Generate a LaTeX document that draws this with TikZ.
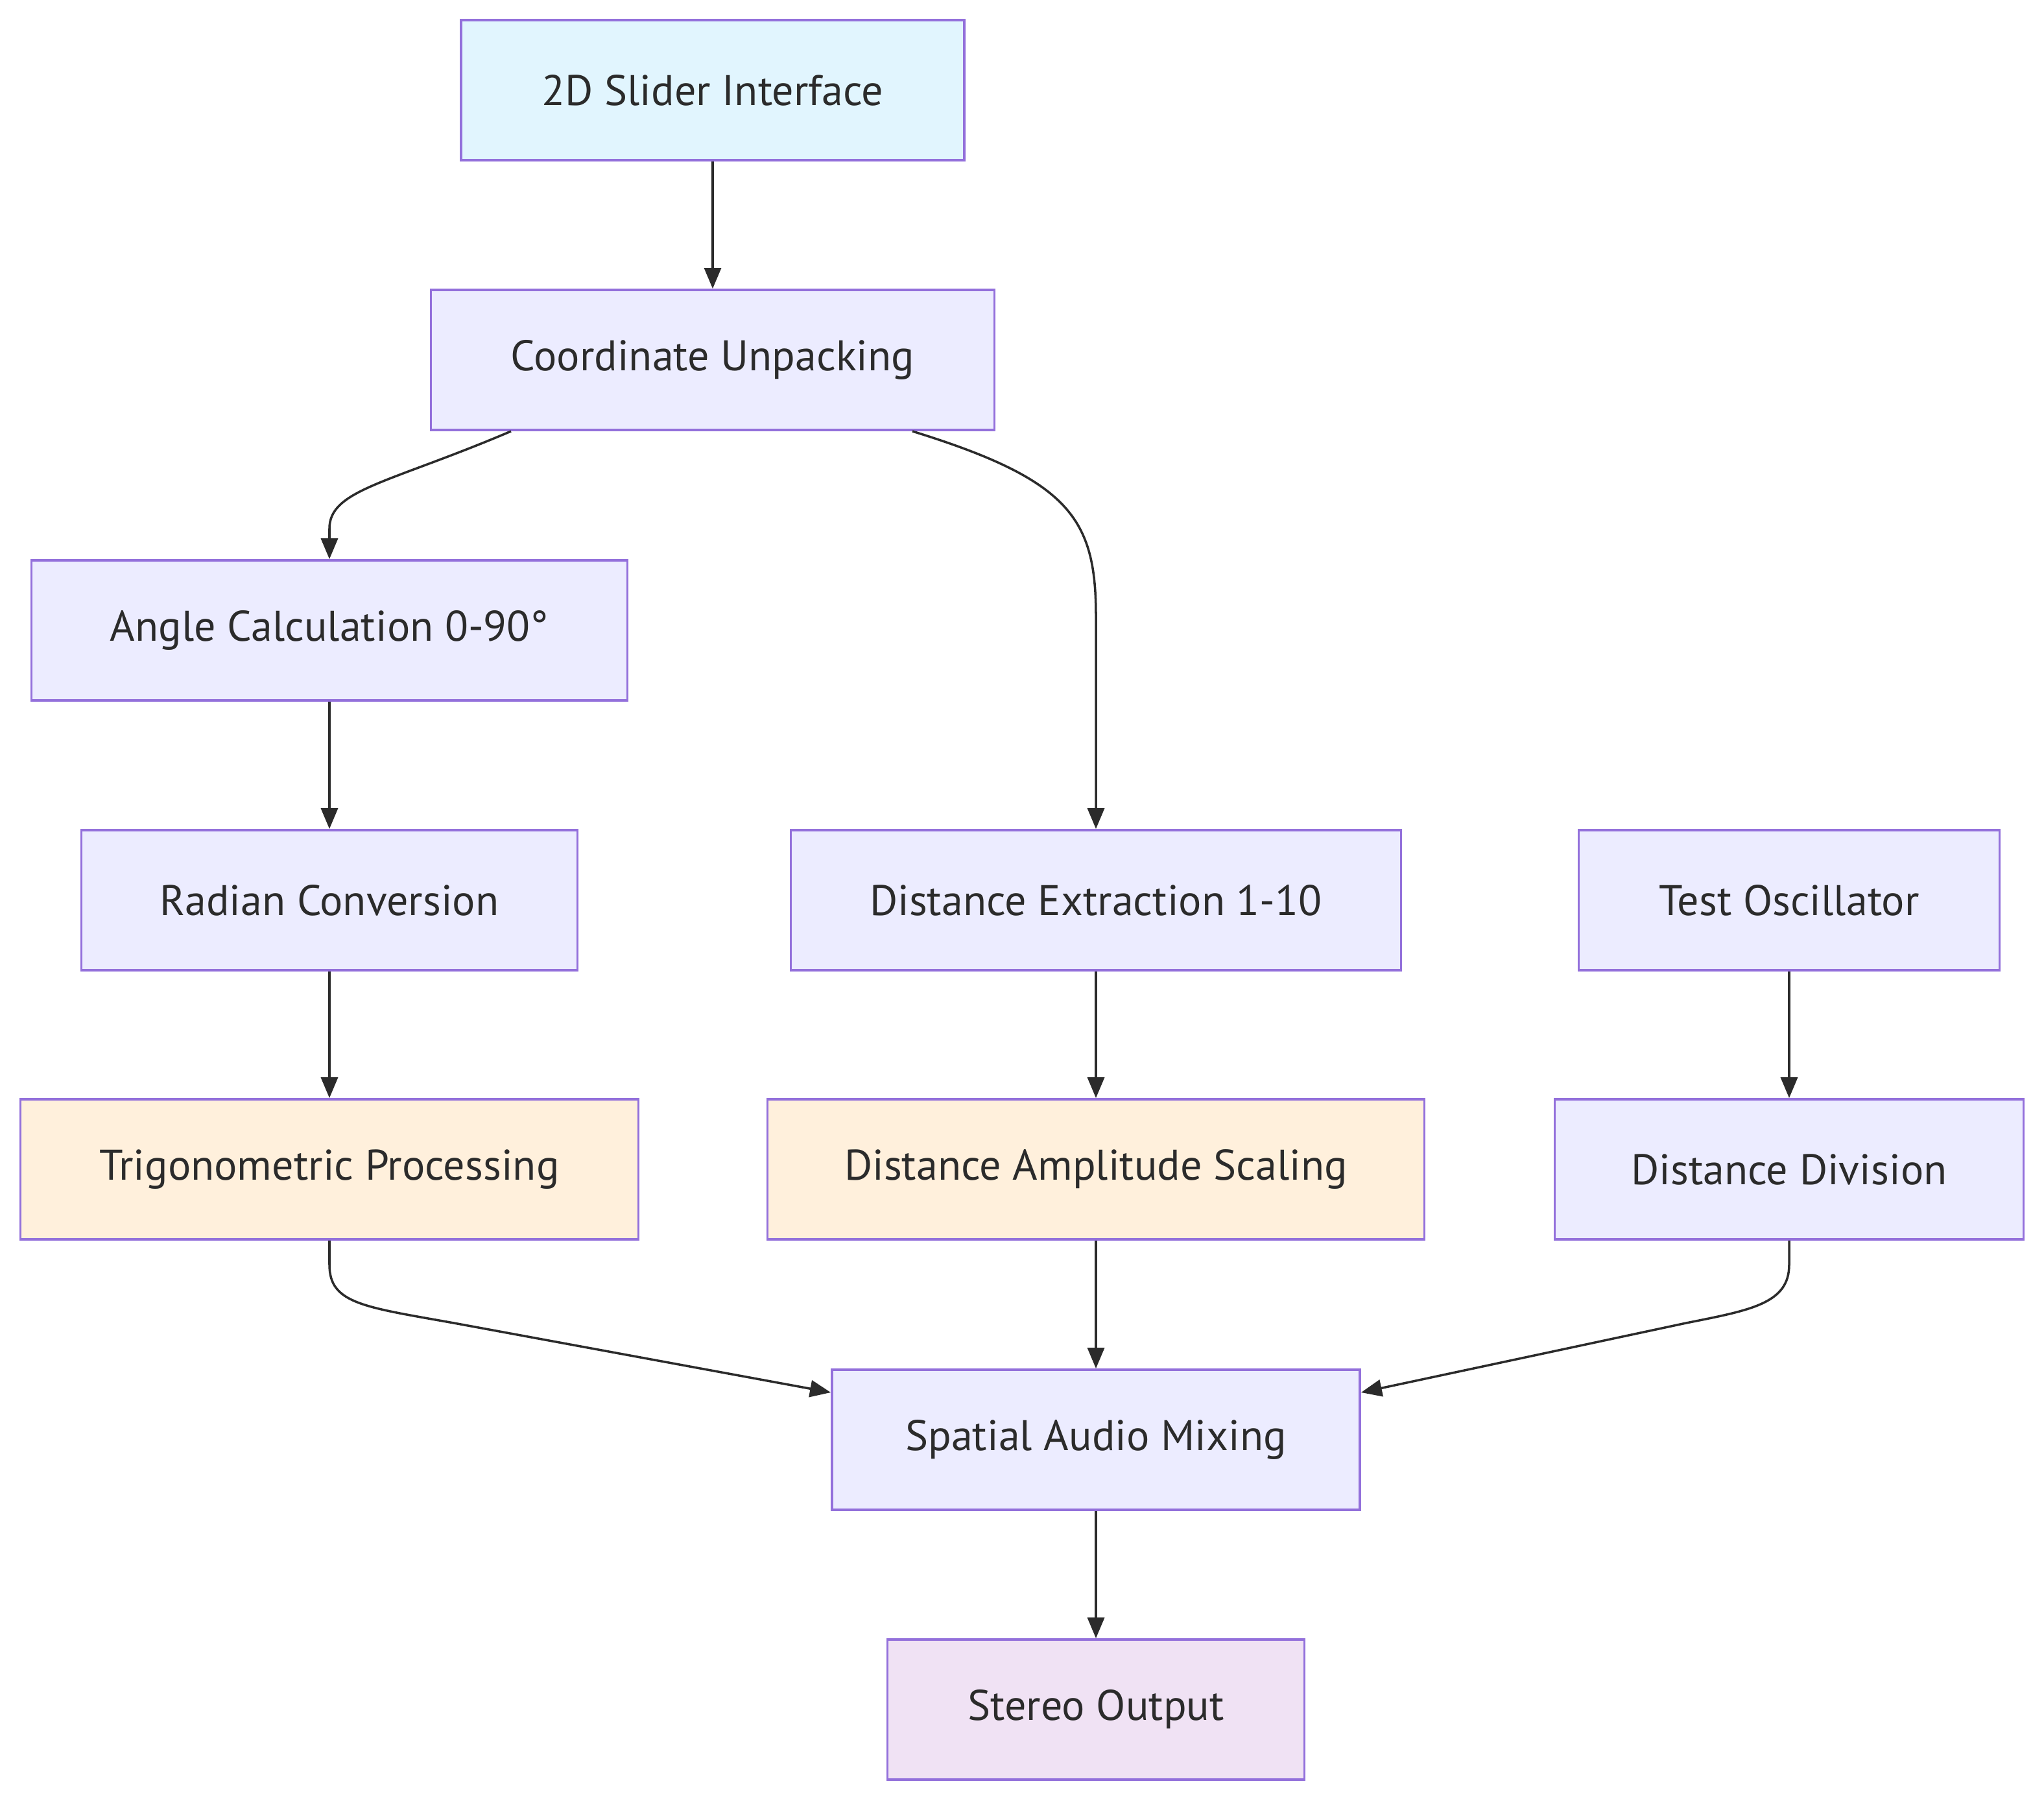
\documentclass[tikz,border=0pt]{standalone}
\usepackage{fontspec}
\setmainfont{PT Sans}
\usetikzlibrary{arrows.meta}
\definecolor{boxline}{HTML}{9370DB}
\definecolor{boxfill}{HTML}{ECECFF}
\definecolor{infill}{HTML}{E1F5FE}
\definecolor{procfill}{HTML}{FFF0DC}
\definecolor{outfill}{HTML}{F0E2F4}
\definecolor{ink}{HTML}{2B2B2B}
\begin{document}
\begin{tikzpicture}[
		blok/.style={draw=boxline,line width=1.1pt,fill=boxfill,minimum height=2.16cm,inner sep=0pt,text=ink,font=\fontsize{18.8}{22}\selectfont},
		link/.style={draw=ink,line width=1pt,-{Triangle[length=.32cm,width=.26cm]}}]
				\useasboundingbox (0,0) rectangle (31.52,-27.76);
				% nodes, row by row
				\node [blok,fill=infill,minimum width=7.76cm] (slider) at (10.99,-1.39) {2D Slider Interface};
				\node [blok,minimum width=8.69cm] (unpack) at (10.99,-5.55) {Coordinate Unpacking};
				\node [blok,minimum width=9.19cm] (angle) at (5.08,-9.72) {Angle Calculation 0-90°};
				\node [blok,minimum width=7.65cm] (radian) at (5.08,-13.88) {Radian Conversion};
				\node [blok,minimum width=9.41cm] (dist) at (16.90,-13.88) {Distance Extraction 1-10};
				\node [blok,minimum width=6.49cm] (osc) at (27.59,-13.88) {Test Oscillator};
				\node [blok,fill=procfill,minimum width=9.53cm] (trig) at (5.08,-18.03) {Trigonometric Processing};
				\node [blok,fill=procfill,minimum width=10.13cm] (amp) at (16.90,-18.03) {Distance Amplitude Scaling};
				\node [blok,minimum width=7.23cm] (divide) at (27.59,-18.03) {Distance Division};
				\node [blok,minimum width=8.14cm] (mix) at (16.90,-22.20) {Spatial Audio Mixing};
				\node [blok,fill=outfill,minimum width=6.43cm] (stereo) at (16.90,-26.36) {Stereo Output};
				% straight links
				\foreach \a/\b in {slider/unpack,angle/radian,radian/trig,dist/amp,osc/divide,amp/mix,mix/stereo}
					\draw [link] (\a) -- (\b);
				% curved links
				\draw [link] ([xshift=-3.11cm]unpack.south) .. controls (6.0,-7.45) and (5.08,-7.55) .. (5.08,-8.15) -- (angle);
				\draw [link] ([xshift=3.08cm]unpack.south) .. controls (16.5,-7.4) and (16.90,-8.0) .. (16.90,-9.5) -- (dist);
				\draw [link] (trig.south) -- (5.08,-19.5) .. controls (5.08,-20.1) and (5.6,-20.15) .. (7.0,-20.4) -- (mix.west |- 0,-21.47);
				\draw [link] (divide.south) -- (27.59,-19.5) .. controls (27.59,-20.1) and (27.0,-20.2) .. (26.0,-20.4) -- (mix.east |- 0,-21.47);
			\end{tikzpicture}
\end{document}
